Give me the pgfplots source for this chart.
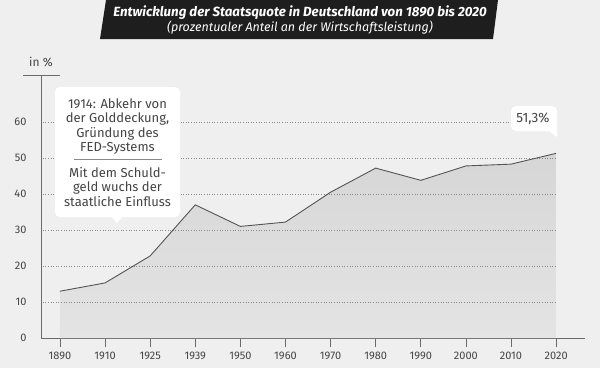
\documentclass[border=0pt]{standalone}
\usepackage{fontspec}
\setmainfont{Fira Sans}
\usepackage{pgfplots}
\pgfplotsset{compat=1.18}
\definecolor{bg}{HTML}{EFEFEF}
\definecolor{axisgray}{HTML}{6A6A6A}
\definecolor{labelgray}{HTML}{444444}
\definecolor{gridgray}{HTML}{8A8A8A}
\definecolor{filltop}{HTML}{D6D6D6}
\definecolor{fillbot}{HTML}{E4E4E4}
\definecolor{linegray}{HTML}{555555}
\definecolor{banner}{HTML}{1E1E1E}
\begin{document}
\begin{tikzpicture}
\fill[bg] (0pt,0pt) rectangle (600pt,-368pt);
\begin{axis}[
  at={(41pt,-338pt)}, anchor=south west,
  scale only axis, width=544pt, height=263pt,
  xmin=-0.42, xmax=11.64, ymin=0, ymax=73.06,
  axis lines=left,
  axis line style={-, draw=axisgray, line width=0.9pt},
  xtick={0,...,11},
  xticklabels={1890,1910,1925,1939,1950,1960,1970,1980,1990,2000,2010,2020},
  ytick={0,10,...,60},
  tick align=outside, major tick length=9pt,
  xtick style={draw=axisgray, line width=0.8pt},
  ytick style={draw=none},
  tick label style={font=\fontsize{11}{13}\selectfont, text=labelgray},
  xticklabel style={yshift=-1pt},
  yticklabel style={xshift=-2pt},
  /pgf/number format/assume math mode=true,
  clip=false,
]
\addplot[draw=none, top color=filltop, bottom color=fillbot] coordinates {
(0,13.0) (1,15.3) (2,22.8) (3,37.0) (4,31.0) (5,32.2) (6,40.5) (7,47.2) (8,43.8) (9,47.8) (10,48.3) (11,51.3)
} \closedcycle;
\addplot[dotted, gridgray, line width=0.6pt] coordinates {(-0.38,10) (11,10)};
\addplot[dotted, gridgray, line width=0.6pt] coordinates {(-0.38,20) (11,20)};
\addplot[dotted, gridgray, line width=0.6pt] coordinates {(-0.38,30) (11,30)};
\addplot[dotted, gridgray, line width=0.6pt] coordinates {(-0.38,40) (11,40)};
\addplot[dotted, gridgray, line width=0.6pt] coordinates {(-0.38,50) (11,50)};
\addplot[dotted, gridgray, line width=0.6pt] coordinates {(-0.38,60) (11,60)};
\addplot[linegray, line width=0.9pt] coordinates {
(0,13.0) (1,15.3) (2,22.8) (3,37.0) (4,31.0) (5,32.2) (6,40.5) (7,47.2) (8,43.8) (9,47.8) (10,48.3) (11,51.3)
};
\end{axis}
\begin{scope}[x=1pt, y=-1pt]
% title banner
\fill[banner] (100,39) -- (106,0) -- (498,0) -- (493,39) -- cycle;
\node[white, font=\bfseries\itshape\fontsize{13.3}{15}\selectfont] at (300,12.5) {Entwicklung der Staatsquote in Deutschland von 1890 bis 2020};
\node[white, font=\itshape\fontsize{12.5}{14}\selectfont] at (300,27.5) {(prozentualer Anteil an der Wirtschaftsleistung)};
% in %
\draw[axisgray, line width=0.9pt] (23,75) -- (60,75);
\node[labelgray, font=\fontsize{12}{14}\selectfont] at (41,62) {in \%};
% annotation box
\fill[white, rounded corners=5pt] (55,87) rectangle (180,217);
\fill[white] (110,215) -- (117,223) -- (124,215) -- cycle;
\node[labelgray, align=center, font=\fontsize{13}{14.3}\selectfont, anchor=center] at (117.5,126.5) {1914: Abkehr von\\der Golddeckung,\\Gründung des\\FED-Systems};
\draw[gridgray, line width=0.9pt] (74,159) -- (162,159);
\node[labelgray, align=center, font=\fontsize{13}{14.3}\selectfont, anchor=center] at (117.5,187) {Mit dem Schuld-\\geld wuchs der\\staatliche Einfluss};
% value label
\fill[white, rounded corners=5pt] (511,106) rectangle (557,131);
\fill[white] (547,129) -- (557,137) -- (557,124) -- cycle;
\node[labelgray, font=\fontsize{13.5}{15}\selectfont] at (533,118.5) {51,3\%};
\end{scope}
\end{tikzpicture}
\end{document}
